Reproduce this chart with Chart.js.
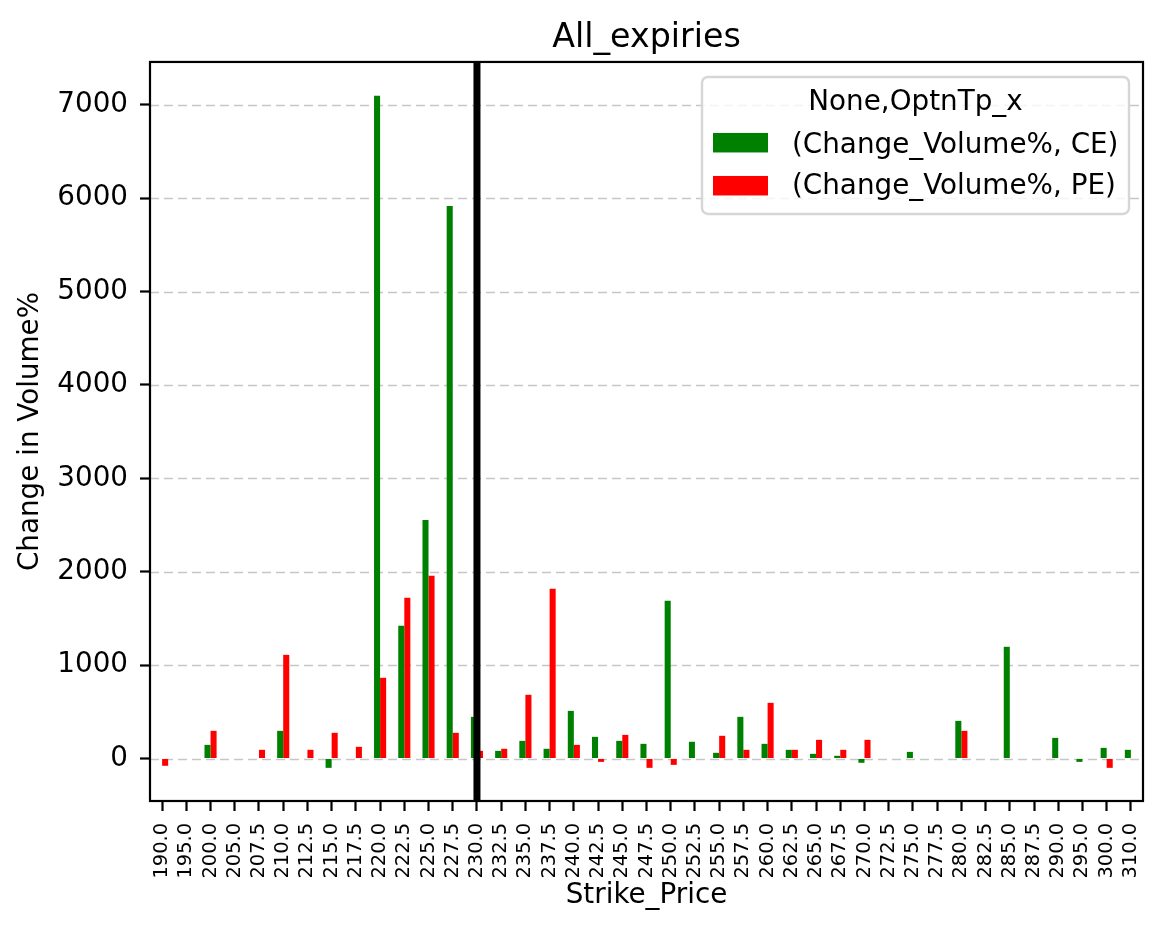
<!DOCTYPE html>
<html>
<head>
<meta charset="utf-8">
<script src="https://cdn.jsdelivr.net/npm/chart.js@4.4.1/dist/chart.umd.min.js"></script>
<style>
html,body{margin:0;padding:0;background:#ffffff;}
#wrap{width:1161px;height:929px;position:relative;}
</style>
</head>
<body>
<div id="wrap"><canvas id="c"></canvas></div>
<script>
// ---- data ----
const strikes = ['190.0','195.0','200.0','205.0','207.5','210.0','212.5','215.0','217.5','220.0',
  '222.5','225.0','227.5','230.0','232.5','235.0','237.5','240.0','242.5','245.0',
  '247.5','250.0','252.5','255.0','257.5','260.0','262.5','265.0','267.5','270.0',
  '272.5','275.0','277.5','280.0','282.5','285.0','287.5','290.0','295.0','300.0','310.0'];
const ceValues = [null,null,146,null,null,296,null,-100,null,7096,
  1421,2555,5917,446,82,189,104,510,232,189,
  157,1688,179,61,446,157,93,50,29,-46,
  null,71,null,403,null,1196,null,221,-36,114,93];
const peValues = [-78,null,296,null,93,1110,93,275,125,864,
  1720,1956,275,82,104,682,1817,146,-36,253,
  -100,-68,null,243,93,596,93,200,93,200,
  null,null,null,296,null,null,null,null,null,-100,null];
const yTicks = [0,1000,2000,3000,4000,5000,6000,7000];
const spotStrike = '230.0';
const seriesLabels = ['(Change_Volume%, CE)','(Change_Volume%, PE)'];
const seriesColors = ['#008000','#ff0000'];
const legendTitle = 'None,OptnTp_x';
const chartTitle = 'All_expiries';
const xTitle = 'Strike_Price';
const yTitle = 'Change in Volume%';

const FONT = "'DejaVu Sans', sans-serif";
Chart.defaults.font.family = FONT;
Chart.defaults.color = '#000000';

const overlay = {
  id: 'overlay',
  beforeDatasetsDraw(chart) {
    const {ctx, chartArea: a, scales: {y}} = chart;
    ctx.save();
    ctx.strokeStyle = '#c6c6c6';
    ctx.lineWidth = 1.6;
    ctx.setLineDash([9, 5]);
    yTicks.forEach(v => {
      const py = Math.round(y.getPixelForValue(v)) + 0.5;
      ctx.beginPath();
      ctx.moveTo(a.left, py);
      ctx.lineTo(a.right, py);
      ctx.stroke();
    });
    ctx.restore();
  },
  afterDatasetsDraw(chart) {
    const {ctx, chartArea: a, scales: {x}} = chart;
    ctx.save();
    // spot line
    const sx = x.getPixelForValue(strikes.indexOf(spotStrike));
    ctx.strokeStyle = '#000000';
    ctx.lineWidth = 7;
    ctx.beginPath();
    ctx.moveTo(sx, a.top);
    ctx.lineTo(sx, a.bottom);
    ctx.stroke();
    // spines
    ctx.lineWidth = 2.2;
    ctx.strokeRect(a.left, a.top, a.right - a.left, a.bottom - a.top);
    // legend
    const lw = 427, lh = 137;
    const lx = a.right - 14 - lw, ly = a.top + 15;
    ctx.beginPath();
    ctx.roundRect(lx, ly, lw, lh, 6);
    ctx.fillStyle = 'rgba(255,255,255,0.8)';
    ctx.fill();
    ctx.strokeStyle = '#d6d6d6';
    ctx.lineWidth = 2.4;
    ctx.stroke();
    ctx.fillStyle = '#000000';
    ctx.font = '27.8px ' + FONT;
    ctx.textBaseline = 'alphabetic';
    ctx.textAlign = 'center';
    ctx.fillText(legendTitle, lx + lw / 2, ly + 33);
    ctx.textAlign = 'left';
    const rows = [[56, 76], [99, 117]];
    seriesLabels.forEach((lab, i) => {
      ctx.fillStyle = seriesColors[i];
      ctx.fillRect(lx + 11, ly + rows[i][0], 55, 19.5);
      ctx.fillStyle = '#000000';
      ctx.fillText(lab, lx + 90, ly + rows[i][1]);
    });
    ctx.restore();
  }
};

new Chart(document.getElementById('c'), {
  type: 'bar',
  data: {
    labels: strikes,
    datasets: [
      {label: seriesLabels[0], data: ceValues, backgroundColor: seriesColors[0], borderWidth: 0},
      {label: seriesLabels[1], data: peValues, backgroundColor: seriesColors[1], borderWidth: 0}
    ]
  },
  options: {
    responsive: true,
    maintainAspectRatio: false,
    animation: false,
    datasets: {bar: {categoryPercentage: 0.5, barPercentage: 1.0}},
    layout: {padding: {left: 0, right: 18, top: 0, bottom: 0}},
    plugins: {
      legend: {display: false},
      tooltip: {enabled: false},
      title: {
        display: true,
        fullSize: false,
        text: chartTitle,
        color: '#000000',
        font: {size: 33.3, weight: 'normal', family: FONT, lineHeight: 1.2},
        padding: {top: 18, bottom: 4}
      }
    },
    scales: {
      x: {
        type: 'category',
        offset: true,
        afterFit(scale) { scale.height = 128; scale.paddingLeft = 0; scale.paddingRight = 0; },
        grid: {display: true, offset: false, drawOnChartArea: false, drawTicks: true,
               tickLength: 10, tickColor: '#000000', tickWidth: 2.2, tickBorderDash: []},
        border: {display: false},
        ticks: {autoSkip: false, minRotation: 90, maxRotation: 90, padding: 12,
                color: '#000000', font: {size: 19.4, family: FONT}},
        title: {display: true, text: xTitle, color: '#000000',
                font: {size: 27.8, family: FONT, lineHeight: 1.2}, padding: {top: 0, bottom: 17}}
      },
      y: {
        type: 'linear',
        min: -455,
        max: 7458,
        afterFit(scale) { scale.width = 150; scale.paddingTop = 0; scale.paddingBottom = 0; },
        afterBuildTicks(scale) { scale.ticks = yTicks.map(v => ({value: v})); },
        grid: {display: true, drawOnChartArea: false, drawTicks: true,
               tickLength: 10, tickColor: '#000000', tickWidth: 2.2, tickBorderDash: []},
        border: {display: false},
        ticks: {padding: 12, color: '#000000', font: {size: 27.8, family: FONT},
                callback: v => String(v)},
        title: {display: true, text: yTitle, color: '#000000',
                font: {size: 27.8, family: FONT, lineHeight: 1.2}, padding: {top: 14, bottom: 0}}
      }
    }
  },
  plugins: [overlay]
});
</script>
</body>
</html>
